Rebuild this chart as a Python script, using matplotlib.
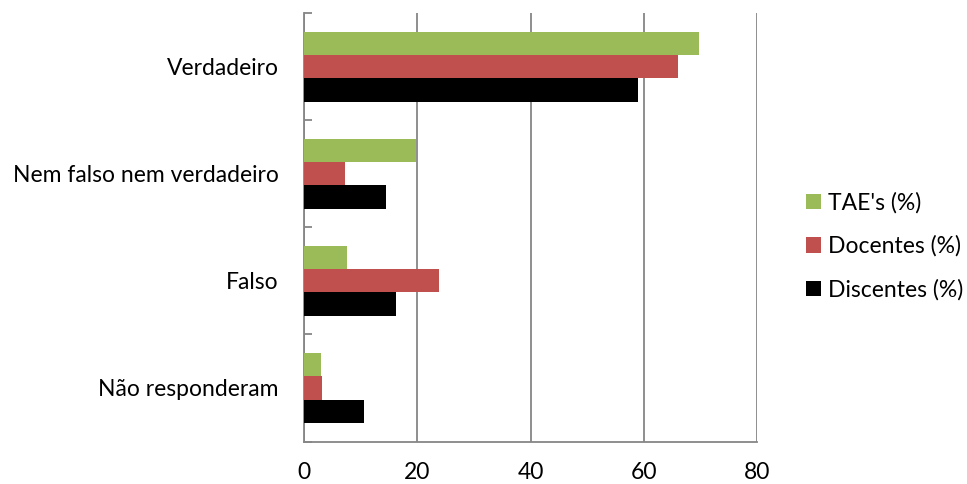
import matplotlib
matplotlib.use("Agg")
import matplotlib.pyplot as plt
import numpy as np

plt.rcParams['font.family'] = ['Lato', 'DejaVu Sans']

categories = ["Não responderam", "Falso", "Nem falso nem verdadeiro", "Verdadeiro"]
tae = [3.0, 7.6, 19.8, 69.8]
docentes = [3.2, 23.8, 7.2, 66.0]
discentes = [10.6, 16.2, 14.4, 59.0]
series_names = ["TAE's (%)", "Docentes (%)", "Discentes (%)"]
colors = ["#9BBB59", "#C0504D", "#000000"]
xticks = [0, 20, 40, 60, 80]

fig = plt.figure(figsize=(9.67, 4.84), dpi=100)
ax = fig.add_axes([304 / 967, 1 - 441.5 / 484, (757 - 304) / 967, (441.5 - 13) / 484])

y = np.arange(len(categories))
h = 0.218
handles = []
for offset, vals, col, name in zip([h, 0, -h], [tae, docentes, discentes], colors, series_names):
    b = ax.barh(y + offset, vals, height=h, color=col, label=name, zorder=3)
    handles.append(b)

ax.set_xlim(0, 80)
ax.set_ylim(-0.5, len(categories) - 0.5)
ax.set_xticks(xticks)
ax.set_xticklabels([str(v) for v in xticks])
ax.set_yticks(y)
ax.set_yticklabels(categories)
ax.set_yticks(np.arange(-0.5, len(categories)), minor=True)

fs = 16.5
ax.xaxis.grid(True, color="#868686", linewidth=1.3, zorder=0)
ax.tick_params(axis='x', length=0, pad=15, labelsize=fs)
ax.tick_params(axis='y', which='major', length=0, pad=18, labelsize=fs)
ax.tick_params(axis='y', which='minor', length=6, width=1.3, color="#868686", direction='in')

for s in ['top', 'right']:
    ax.spines[s].set_visible(False)
for s in ['left', 'bottom']:
    ax.spines[s].set_color("#868686")
    ax.spines[s].set_linewidth(1.3)

leg = fig.legend(handles=handles, labels=series_names, loc='upper left',
                 bbox_to_anchor=(797 / 967, 1 - 183 / 484), frameon=False,
                 fontsize=fs, handlelength=0.65, handleheight=0.65,
                 handletextpad=0.3, labelspacing=0.95, borderaxespad=0)

fig.savefig("out.png", dpi=100)
